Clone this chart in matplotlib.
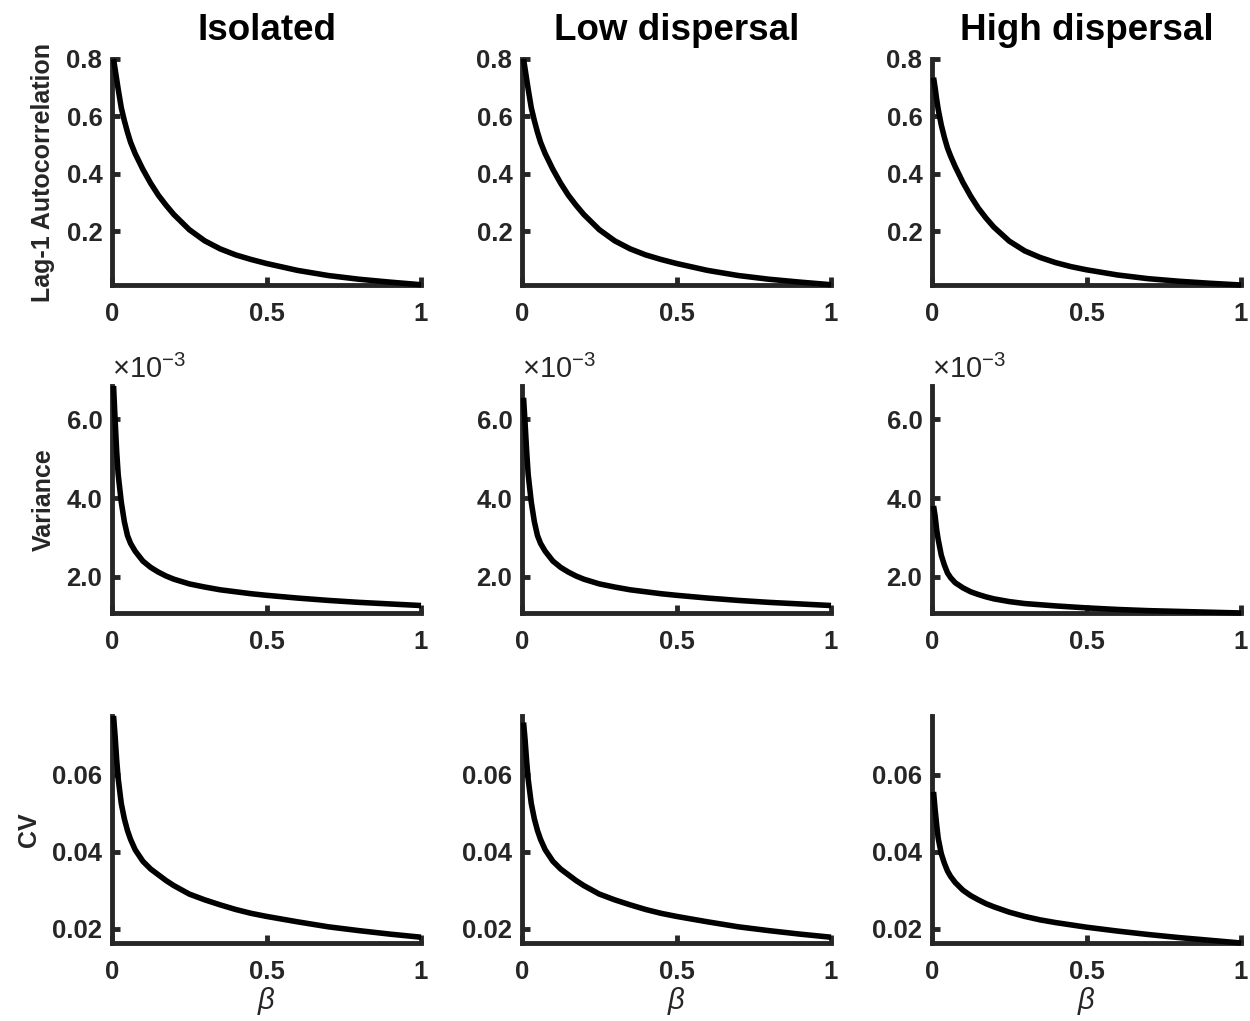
import numpy as np
import matplotlib
matplotlib.use('Agg')
import matplotlib.pyplot as plt
from matplotlib.ticker import FixedLocator, FuncFormatter

plt.rcParams['font.family'] = ['Liberation Sans', 'DejaVu Sans']
plt.rcParams['mathtext.fontset'] = 'custom'
plt.rcParams['mathtext.rm'] = 'Liberation Sans'
plt.rcParams['mathtext.it'] = 'Liberation Sans:italic'
plt.rcParams['mathtext.bf'] = 'Liberation Sans:bold'

AX_COLOR = '#262626'

# dispersal scenarios (columns) and indicators (rows)
scenarios = ['Isolated', 'Low dispersal', 'High dispersal']
indicators = ['Lag-1 Autocorrelation', 'Variance', 'CV']

beta = [0.005, 0.01, 0.015, 0.02, 0.03, 0.04, 0.05, 0.06, 0.075, 0.1,
        0.125, 0.15, 0.175, 0.2, 0.25, 0.3, 0.35, 0.4, 0.45, 0.5,
        0.6, 0.7, 0.8, 0.9, 1.0]

# lag-1 autocorrelation
ac_isolated = [0.80, 0.765, 0.73, 0.695, 0.63, 0.585, 0.545, 0.51, 0.47, 0.415,
               0.367, 0.325, 0.29, 0.258, 0.205, 0.166, 0.138, 0.117, 0.101, 0.087,
               0.063, 0.045, 0.032, 0.022, 0.013]
ac_low = [0.80, 0.765, 0.73, 0.695, 0.63, 0.585, 0.545, 0.51, 0.47, 0.415,
          0.367, 0.325, 0.29, 0.258, 0.205, 0.166, 0.138, 0.117, 0.101, 0.087,
          0.063, 0.045, 0.032, 0.022, 0.013]
ac_high = [0.735, 0.70, 0.66, 0.625, 0.57, 0.527, 0.49, 0.462, 0.425, 0.37,
           0.322, 0.28, 0.245, 0.214, 0.165, 0.131, 0.108, 0.09, 0.076, 0.065,
           0.047, 0.034, 0.025, 0.018, 0.012]

# variance
var_isolated = [6.85e-3, 6.0e-3, 5.2e-3, 4.6e-3, 3.9e-3, 3.4e-3, 3.05e-3, 2.85e-3, 2.65e-3, 2.4e-3,
                2.24e-3, 2.12e-3, 2.02e-3, 1.94e-3, 1.82e-3, 1.74e-3, 1.67e-3, 1.62e-3, 1.57e-3, 1.53e-3,
                1.46e-3, 1.40e-3, 1.35e-3, 1.31e-3, 1.27e-3]
var_low = [6.55e-3, 5.9e-3, 5.2e-3, 4.6e-3, 3.9e-3, 3.4e-3, 3.05e-3, 2.85e-3, 2.65e-3, 2.4e-3,
           2.24e-3, 2.12e-3, 2.02e-3, 1.94e-3, 1.82e-3, 1.74e-3, 1.67e-3, 1.62e-3, 1.57e-3, 1.53e-3,
           1.46e-3, 1.40e-3, 1.35e-3, 1.31e-3, 1.27e-3]
var_high = [3.8e-3, 3.55e-3, 3.2e-3, 2.95e-3, 2.55e-3, 2.3e-3, 2.1e-3, 1.98e-3, 1.85e-3, 1.72e-3,
            1.62e-3, 1.55e-3, 1.49e-3, 1.44e-3, 1.37e-3, 1.32e-3, 1.29e-3, 1.26e-3, 1.235e-3, 1.21e-3,
            1.17e-3, 1.14e-3, 1.12e-3, 1.10e-3, 1.08e-3]

# coefficient of variation
cv_isolated = [0.0752, 0.0700, 0.0640, 0.0590, 0.0525, 0.0485, 0.0455, 0.0432, 0.0405, 0.0375,
               0.0355, 0.0340, 0.0325, 0.0312, 0.0290, 0.0275, 0.0262, 0.0250, 0.0240, 0.0232,
               0.0218, 0.0205, 0.0195, 0.0186, 0.0178]
cv_low = [0.0735, 0.0690, 0.0635, 0.0588, 0.0525, 0.0485, 0.0455, 0.0432, 0.0405, 0.0375,
          0.0355, 0.0340, 0.0325, 0.0312, 0.0290, 0.0275, 0.0262, 0.0250, 0.0240, 0.0232,
          0.0218, 0.0205, 0.0195, 0.0186, 0.0178]
cv_high = [0.0555, 0.0510, 0.0470, 0.0435, 0.0395, 0.0370, 0.0350, 0.0336, 0.0320, 0.0300,
           0.0286, 0.0275, 0.0265, 0.0257, 0.0243, 0.0232, 0.0223, 0.0216, 0.0210, 0.0204,
           0.0194, 0.0185, 0.0177, 0.0170, 0.0163]

series = [[ac_isolated, ac_low, ac_high],
          [var_isolated, var_low, var_high],
          [cv_isolated, cv_low, cv_high]]

yticks = [[0.2, 0.4, 0.6, 0.8],
          [2e-3, 4e-3, 6e-3],
          [0.02, 0.04, 0.06]]
xticks = [0, 0.5, 1]

ytick_fmt = [lambda v, p: f'{v:.1f}',
             lambda v, p: f'{v * 1e3:.1f}',
             lambda v, p: f'{v:.2f}']

W, H = 1250, 1021
fig = plt.figure(figsize=(W / 100, H / 100), dpi=100)

col_left = [112, 522, 932]
col_width = 309
row_top = [59, 386, 716]
row_height = [226, 227, 227]

for r in range(3):
    lo = min(min(s) for s in series[r])
    hi = max(max(s) for s in series[r])
    for c in range(3):
        ax = fig.add_axes([col_left[c] / W, 1 - (row_top[r] + row_height[r]) / H,
                           col_width / W, row_height[r] / H])
        ax.plot(beta, series[r][c], color='black', lw=4, clip_on=False,
                solid_capstyle='butt', solid_joinstyle='round', zorder=3)
        ax.set_xlim(0, 1)
        ax.set_ylim(lo, hi)

        for side in ['top', 'right']:
            ax.spines[side].set_visible(False)
        for side in ['left', 'bottom']:
            ax.spines[side].set_linewidth(3.5)
            ax.spines[side].set_color(AX_COLOR)
            ax.spines[side].set_capstyle('projecting')

        ax.xaxis.set_major_locator(FixedLocator(xticks))
        ax.xaxis.set_major_formatter(FuncFormatter(lambda v, p: f'{v:g}'))
        ax.yaxis.set_major_locator(FixedLocator(yticks[r]))
        ax.yaxis.set_major_formatter(FuncFormatter(ytick_fmt[r]))
        ax.tick_params(direction='in', length=6, width=3.5, color=AX_COLOR,
                       labelsize=18.5, labelcolor=AX_COLOR)
        ax.tick_params(axis='x', pad=12)
        ax.tick_params(axis='y', pad=7)
        for lbl in ax.get_xticklabels() + ax.get_yticklabels():
            lbl.set_fontweight('bold')

        if r == 0:
            ax.set_title(scenarios[c], fontsize=26.5, fontweight='bold', pad=14)
        if c == 0:
            ax.set_ylabel(indicators[r], fontsize=18, fontweight='bold',
                          color=AX_COLOR, labelpad=8)
        if r == 1:
            ax.text(0.0, 1.01, r'$\times\mathregular{10^{-3}}$', transform=ax.transAxes,
                    ha='left', va='bottom', fontsize=21, color=AX_COLOR)
        if r == 2:
            ax.set_xlabel(r'$\beta$', fontsize=21, color=AX_COLOR, labelpad=1)

fig.savefig('out.png', dpi=100, facecolor='white')
